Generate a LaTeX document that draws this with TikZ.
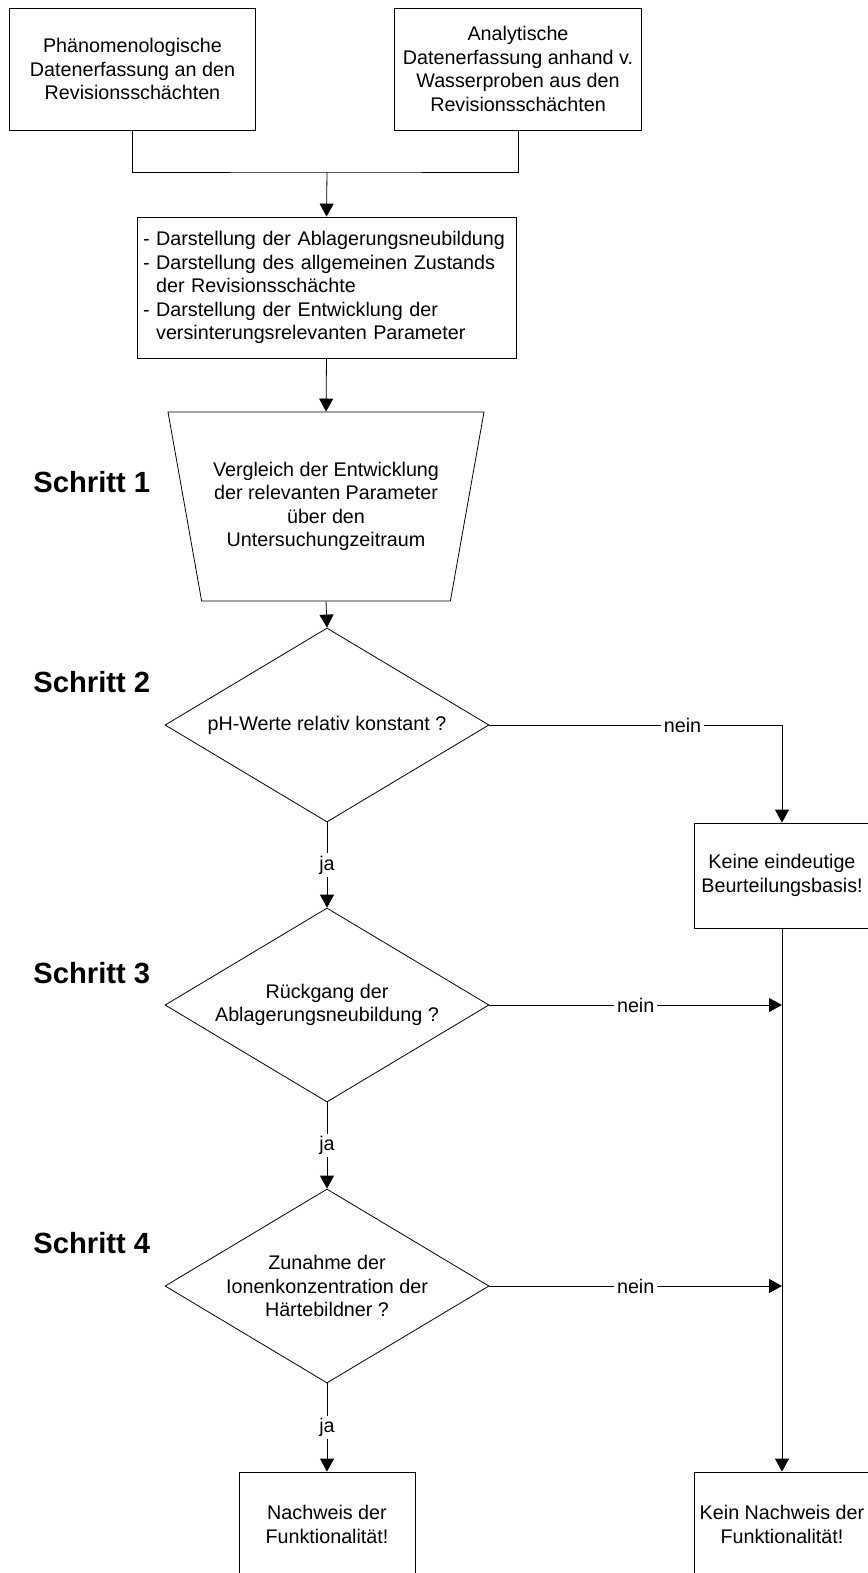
\documentclass[tikz,border=0pt]{standalone}
\usepackage{fontspec}
\setmainfont{Liberation Sans}
\usepackage{tikz}
\usetikzlibrary{shapes.geometric,positioning,arrows.meta,calc}
\usepackage{xcolor}

\begin{document}
\begin{tikzpicture}[
    x=0.75pt, y=-0.75pt,
    font=\fontsize{14.8}{17.6}\selectfont,
    every node/.style={line width=0.6pt},
    block/.style={rectangle, draw, text centered, minimum width=185pt, minimum height=91.5pt, inner sep=3pt},
    listbox/.style={rectangle, draw, align=left, text width=275.25pt, inner xsep=4.5pt, minimum height=105.75pt},
    compare/.style={trapezium, draw, shape border rotate=180, trapezium left angle=71, trapezium right angle=71, trapezium stretches body, minimum width=237pt, minimum height=141.75pt, align=center},
    decision/.style={diamond, draw, aspect=1.67, inner sep=0pt, minimum width=243pt, minimum height=145.5pt, align=center},
    result/.style={rectangle, draw, align=center, minimum width=132pt, minimum height=78.75pt},
    steplabel/.style={font=\fontsize{21.9}{26}\selectfont\bfseries, anchor=west, inner sep=0pt},
    yesno/.style={fill=white, inner sep=2pt},
    arrow/.style={-{Triangle[length=9.75pt,width=10.5pt]}, line width=0.6pt},
    plainline/.style={line width=0.6pt}
]
\useasboundingbox (0,0) rectangle (867,1573);

% Data collection
\node[block, align=center] (data_phen) at (132.5,69) {Phänomenologische\\Datenerfassung an den\\Revisionsschächten};
\node[block, align=center] (data_anal) at (518,69) {Analytische\\Datenerfassung anhand v.\\Wasserproben aus den\\Revisionsschächten};
\coordinate (join) at (327,172);

% Summary
\node[listbox] (summary) at (326.5,287.5) {- Darstellung der Ablagerungsneubildung\\- Darstellung des allgemeinen Zustands\\\phantom{- }der Revisionsschächte\\- Darstellung der Entwicklung der\\\phantom{- }versinterungsrelevanten Parameter};

% Steps
\node[compare] (compare) at (326,506.5) {Vergleich der Entwicklung\\der relevanten Parameter\\über den\\Untersuchungzeitraum};
\node[decision] (check_ph) at (327,725) {pH-Werte relativ konstant ?};
\node[decision] (check_dep) at (327,1005) {Rückgang der\\Ablagerungsneubildung ?};
\node[decision] (check_ion) at (327,1286) {Zunahme der\\Ionenkonzentration der\\Härtebildner ?};

% Results
\node[result] (no_basis) at (782,875.5) {Keine eindeutige\\Beurteilungsbasis!};
\node[result] (proof_yes) at (327,1524.5) {Nachweis der\\Funktionalität!};
\node[result] (proof_no) at (782,1524.5) {Kein Nachweis der\\Funktionalität!};
\coordinate (tap_dep) at (check_dep.east -| no_basis.south);
\coordinate (tap_ion) at (check_ion.east -| no_basis.south);

% Arrows - main flow
\draw[plainline] (data_phen.south) |- (join) -| (data_anal.south);
\draw[arrow] (join) -- (summary.north);
\draw[arrow] (summary.south) -- (compare.north);
\draw[arrow] (compare.south) -- (check_ph.north);
\draw[arrow] (check_ph.south) -- node[yesno] {ja} (check_dep.north);
\draw[arrow] (check_dep.south) -- node[yesno] {ja} (check_ion.north);
\draw[arrow] (check_ion.south) -- node[yesno] {ja} (proof_yes.north);

% Arrows - nein
\draw[arrow] (check_ph.east) -| node[yesno, pos=0.33] {nein} (no_basis.north);
\draw[arrow] (check_dep.east) -- node[yesno] {nein} (tap_dep);
\draw[arrow] (check_ion.east) -- node[yesno] {nein} (tap_ion);
\draw[arrow] (no_basis.south) -- (proof_no.north);

% Labels
\node[steplabel] at (33,482) {Schritt 1};
\node[steplabel] at (33,682) {Schritt 2};
\node[steplabel] at (33,973) {Schritt 3};
\node[steplabel] at (33,1243) {Schritt 4};

\end{tikzpicture}
\end{document}
